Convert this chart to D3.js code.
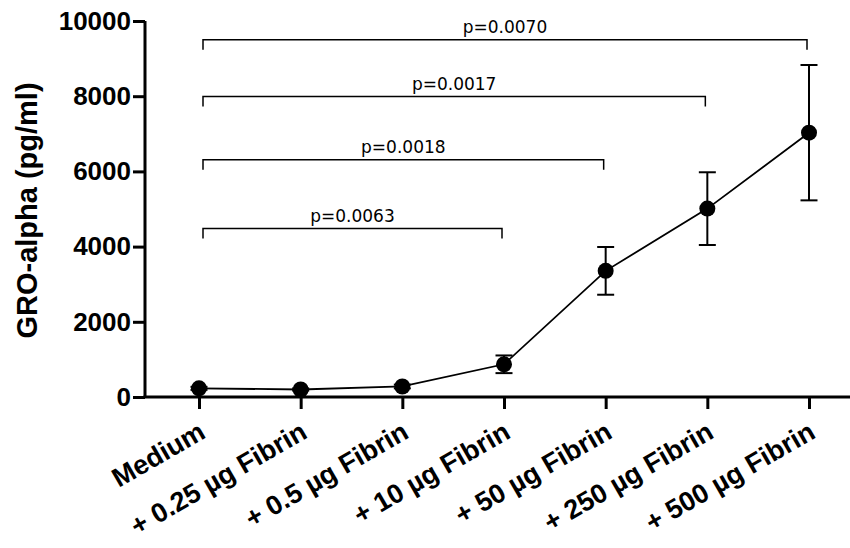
<!DOCTYPE html>
<html>
<head>
<meta charset="utf-8">
<script src="https://cdn.jsdelivr.net/npm/d3@7"></script>
<style>
  html, body { margin: 0; padding: 0; background: #fff; }
  svg { display: block; }
</style>
</head>
<body>
<svg id="chart" width="850" height="548"></svg>
<script>
const categories = ["Medium", "+ 0.25 µg Fibrin", "+ 0.5 µg Fibrin", "+ 10 µg Fibrin",
                    "+ 50 µg Fibrin", "+ 250 µg Fibrin", "+ 500 µg Fibrin"];
const means = [230, 200, 280, 870, 3355, 5010, 7030];
const sem   = [40, 30, 50, 235, 635, 967, 1800];
const yTicks = [0, 2000, 4000, 6000, 8000, 10000];
const comparisons = [
  { from: "Medium", to: "+ 10 µg Fibrin",  level: 4480, label: "p=0.0063" },
  { from: "Medium", to: "+ 50 µg Fibrin",  level: 6310, label: "p=0.0018" },
  { from: "Medium", to: "+ 250 µg Fibrin", level: 7990, label: "p=0.0017" },
  { from: "Medium", to: "+ 500 µg Fibrin", level: 9500, label: "p=0.0070" }
];
const yTitle = "GRO-alpha (pg/ml)";

const svg = d3.select("#chart");
const axisX0 = 145, axisX1 = 850;
const y = d3.scaleLinear().domain([0, 10000]).range([397, 21]);
const x = d3.scalePoint().domain(categories).range([199, 809]);

const boldFont = "'Liberation Sans', Arial, Helvetica, sans-serif";

// Y axis
const yAxis = svg.append("g")
  .attr("transform", `translate(${axisX0},0)`)
  .call(d3.axisLeft(y).tickValues(yTicks).tickSize(12).tickPadding(2).tickFormat(d3.format("d")));
yAxis.select(".domain").attr("d", `M0,${y(10000)}V${y(0)}`).attr("stroke", "#000").attr("stroke-width", 3);
yAxis.selectAll(".tick line").attr("stroke", "#000").attr("stroke-width", 3);
yAxis.selectAll(".tick text")
  .attr("font-family", boldFont).attr("font-weight", "bold").attr("font-size", 26)
  .attr("fill", "#000");

// X axis
const xAxis = svg.append("g")
  .attr("transform", `translate(0,${y(0)})`)
  .call(d3.axisBottom(x).tickSize(12).tickFormat(""));
xAxis.select(".domain").attr("d", `M${axisX0 - 1.5},0H${axisX1}`).attr("stroke", "#000").attr("stroke-width", 3);
xAxis.selectAll(".tick line").attr("stroke", "#000").attr("stroke-width", 3);

// X labels (rotated)
svg.append("g").selectAll("text")
  .data(categories)
  .join("text")
  .attr("transform", d => `translate(${x(d) + 8},${y(0) + 40}) rotate(-30)`)
  .attr("text-anchor", "end")
  .attr("font-family", boldFont).attr("font-weight", "bold").attr("font-size", 27)
  .attr("fill", "#000")
  .text(d => d);

// Y title
svg.append("text")
  .attr("transform", `translate(37,${(77 + 344) / 2}) rotate(-90)`)
  .attr("text-anchor", "middle")
  .attr("font-family", boldFont).attr("font-weight", "bold").attr("font-size", 29)
  .attr("fill", "#000")
  .text(yTitle);

// Data line
const pts = categories.map((c, i) => ({ c, m: means[i], s: sem[i] }));
svg.append("path")
  .datum(pts)
  .attr("fill", "none").attr("stroke", "#000").attr("stroke-width", 1.8)
  .attr("d", d3.line().x(d => x(d.c)).y(d => y(d.m)));

// Error bars
const eb = svg.append("g").attr("stroke", "#000").attr("stroke-width", 2);
eb.selectAll("line.v").data(pts).join("line").attr("class", "v")
  .attr("x1", d => x(d.c)).attr("x2", d => x(d.c))
  .attr("y1", d => y(d.m + d.s)).attr("y2", d => y(d.m - d.s));
eb.selectAll("line.t").data(pts).join("line").attr("class", "t")
  .attr("x1", d => x(d.c) - 8.5).attr("x2", d => x(d.c) + 8.5)
  .attr("y1", d => y(d.m + d.s)).attr("y2", d => y(d.m + d.s));
eb.selectAll("line.b").data(pts).join("line").attr("class", "b")
  .attr("x1", d => x(d.c) - 8.5).attr("x2", d => x(d.c) + 8.5)
  .attr("y1", d => y(d.m - d.s)).attr("y2", d => y(d.m - d.s));

// Points
svg.append("g").selectAll("circle").data(pts).join("circle")
  .attr("cx", d => x(d.c)).attr("cy", d => y(d.m)).attr("r", 8).attr("fill", "#000");

// Significance brackets
const br = svg.append("g");
comparisons.forEach(cp => {
  const x1 = x(cp.from) + 4, x2 = x(cp.to) - 2, yy = y(cp.level);
  br.append("path")
    .attr("d", `M${x1},${yy + 10}V${yy}H${x2}V${yy + 10}`)
    .attr("fill", "none").attr("stroke", "#000").attr("stroke-width", 1.5);
  br.append("text")
    .attr("x", (x1 + x2) / 2).attr("y", yy - 7)
    .attr("text-anchor", "middle")
    .attr("font-family", "'DejaVu Sans', sans-serif").attr("font-size", 17)
    .attr("fill", "#000")
    .text(cp.label);
});
</script>
</body>
</html>
